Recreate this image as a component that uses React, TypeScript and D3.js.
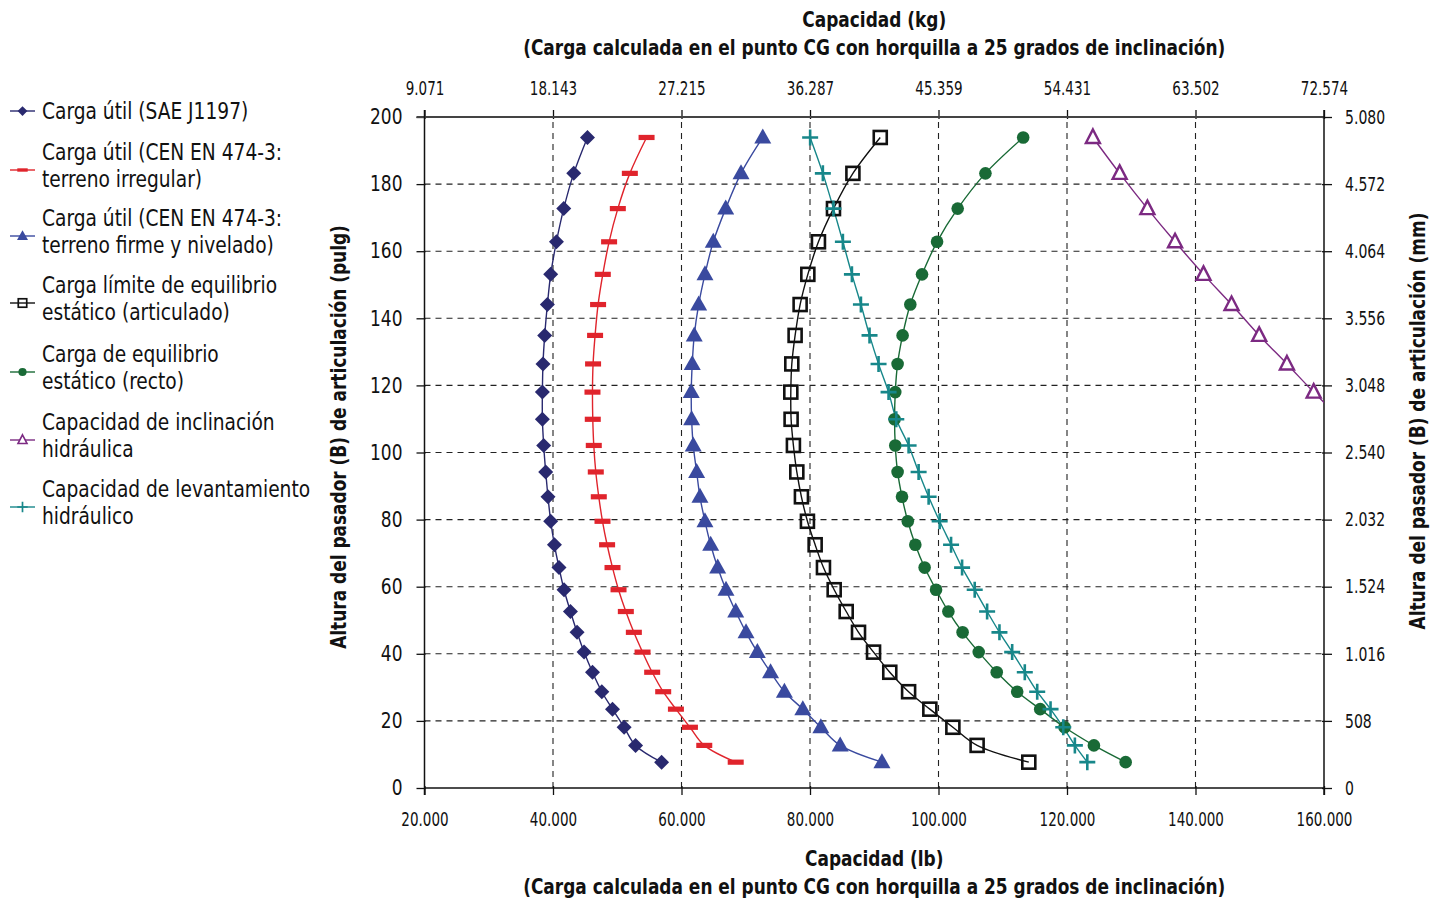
import React, { useEffect, useRef } from "react";
import * as d3 from "d3";

// pivot pin heights (pulg) shared by every curve
const heights = [193.9, 183.2, 172.7, 162.8, 153.1, 144.1, 134.9, 126.4, 118.0, 109.9, 102.1, 94.2, 86.8, 79.5, 72.5, 65.7, 59.1, 52.6, 46.4, 40.5, 34.5, 28.7, 23.5, 18.1, 12.7, 7.7];

// capacities in lb, top to bottom
const saeJ1197 = [45365, 43229, 41670, 40532, 39643, 39129, 38708, 38443, 38349, 38349, 38552, 38864, 39222, 39643, 40220, 40937, 41717, 42715, 43744, 44835, 46144, 47594, 49262, 51071, 52848, 56902];
const cenIrregular = [54563, 51960, 50089, 48732, 47750, 47017, 46550, 46238, 46144, 46191, 46347, 46659, 47127, 47703, 48421, 49262, 50198, 51336, 52583, 53939, 55436, 57151, 59131, 61314, 63543, 68438];
const cenFirme = [72647, 69264, 66879, 64946, 63652, 62670, 61984, 61672, 61516, 61579, 61828, 62358, 62873, 63652, 64541, 65632, 66926, 68438, 70044, 71806, 73863, 76015, 78883, 81690, 84699, 91200];
const limiteArticulado = [90935, 86678, 83654, 81315, 79663, 78463, 77683, 77168, 77013, 77059, 77418, 77948, 78665, 79601, 80801, 82095, 83763, 85634, 87551, 89890, 92416, 95346, 98652, 102237, 106010, 114054];
const equilibrioRecto = [113181, 107304, 102986, 99774, 97436, 95612, 94411, 93632, 93273, 93164, 93273, 93632, 94318, 95222, 96391, 97841, 99618, 101536, 103749, 106259, 109066, 112246, 115832, 119620, 124188, 129130];
const inclinacionHidraulica = [124032, 128195, 132513, 136816, 141243, 145609, 149911, 154230, 158392, 162700];
const levantamientoHidraulico = [80022, 82001, 83654, 85119, 86523, 87926, 89266, 90669, 92228, 93429, 95346, 96905, 98464, 100179, 101957, 103672, 105636, 107569, 109487, 111467, 113431, 115364, 117438, 119417, 121226, 123159];

const lbTicks = [20000, 40000, 60000, 80000, 100000, 120000, 140000, 160000];
const kgLabels = ["9.071", "18.143", "27.215", "36.287", "45.359", "54.431", "63.502", "72.574"];
const pulgTicks = [0, 20, 40, 60, 80, 100, 120, 140, 160, 180, 200];
const mmLabels = ["0", "508", "1.016", "1.524", "2.032", "2.540", "3.048", "3.556", "4.064", "4.572", "5.080"];

const series = [
  { label: ["Carga útil (SAE J1197)"], values: saeJ1197, color: "#29296f", marker: "diamond" },
  { label: ["Carga útil (CEN EN 474-3:", "terreno irregular)"], values: cenIrregular, color: "#e0242c", marker: "dash" },
  { label: ["Carga útil (CEN EN 474-3:", "terreno firme y nivelado)"], values: cenFirme, color: "#3a4a9f", marker: "triangle" },
  { label: ["Carga límite de equilibrio", "estático (articulado)"], values: limiteArticulado, color: "#111111", marker: "square" },
  { label: ["Carga de equilibrio", "estático (recto)"], values: equilibrioRecto, color: "#196a36", marker: "circle" },
  { label: ["Capacidad de inclinación", "hidráulica"], values: inclinacionHidraulica, color: "#7c2a82", marker: "openTriangle" },
  { label: ["Capacidad de levantamiento", "hidráulico"], values: levantamientoHidraulico, color: "#17878a", marker: "cross" },
];

const FONT = "'Liberation Sans Narrow', 'DejaVu Sans Condensed', 'Roboto Condensed', 'Liberation Sans', sans-serif";
const fmtLb = d3.formatLocale({ decimal: ",", thousands: ".", grouping: [3], currency: ["", ""] }).format(",d");

// squeeze text horizontally to mimic the condensed face of the original
function condense(sel, f) {
  sel.each(function () {
    const len = this.getComputedTextLength();
    this.setAttribute("textLength", String(len * f));
    this.setAttribute("lengthAdjust", "spacingAndGlyphs");
  });
}

function drawMarker(g, type, color, s) {
  // s = scale factor (1 on plot, smaller in legend)
  if (type === "diamond") {
    const r = 7.5 * s;
    g.append("path").attr("d", `M0,${-r}L${r},0L0,${r}L${-r},0Z`).attr("fill", color);
  } else if (type === "dash") {
    g.append("rect").attr("x", -8 * s).attr("y", -2.6 * s).attr("width", 16 * s).attr("height", 5.2 * s).attr("fill", color);
  } else if (type === "triangle") {
    const w = 8.5 * s;
    g.append("path").attr("d", `M0,${-9 * s}L${w},${6 * s}L${-w},${6 * s}Z`).attr("fill", color);
  } else if (type === "openTriangle") {
    const w = 7 * s;
    g.append("path").attr("d", `M0,${-8 * s}L${w},${5.5 * s}L${-w},${5.5 * s}Z`).attr("fill", "white").attr("stroke", color).attr("stroke-width", 2.4 * s);
  } else if (type === "square") {
    const h = 6.5 * s;
    g.append("rect").attr("x", -h).attr("y", -h).attr("width", 2 * h).attr("height", 2 * h).attr("fill", "none").attr("stroke", color).attr("stroke-width", 2.6 * s);
  } else if (type === "circle") {
    g.append("circle").attr("r", 6.3 * s).attr("fill", color);
  } else if (type === "cross") {
    const r = 8 * s;
    g.append("path").attr("d", `M${-r},0H${r}M0,${-r}V${r}`).attr("stroke", color).attr("stroke-width", 2.6 * s).attr("fill", "none");
  }
}

function CapacityChart() {
  const ref = useRef(null);

  useEffect(() => {
    const svg = d3.select(ref.current).attr("width", 1430).attr("height", 898);
    svg.selectAll("*").remove();
    svg.style("font-family", FONT);

    const x = d3.scaleLinear().domain([20000, 160000]).range([424.5, 1324]);
    const y = d3.scaleLinear().domain([0, 200]).range([788, 117]);
    const [x0, x1] = x.range();
    const [y0, y1] = y.range();

    svg.append("defs").append("clipPath").attr("id", "plot-clip")
      .append("rect").attr("x", x0).attr("y", y1).attr("width", x1 - x0).attr("height", y0 - y1);

    // Grid
    const grid = svg.append("g").attr("stroke", "#222").attr("stroke-width", 1.1).attr("stroke-dasharray", "6,5");
    lbTicks.slice(1, -1).forEach((t) => {
      grid.append("line").attr("x1", x(t)).attr("x2", x(t)).attr("y1", y0).attr("y2", y1);
    });
    pulgTicks.slice(1, -1).forEach((t) => {
      grid.append("line").attr("x1", x0).attr("x2", x1).attr("y1", y(t)).attr("y2", y(t));
    });

    // Axes
    const styleAxis = (size, f) => (sel) => {
      sel.select(".domain").remove();
      sel.selectAll(".tick line").attr("stroke", "#111").attr("stroke-width", 1.3);
      const t = sel.selectAll(".tick text").attr("fill", "#111").style("font-size", size + "px").style("font-family", FONT);
      if (f !== 1) condense(t, f);
    };

    svg.append("g").attr("transform", `translate(0,${y0})`)
      .call(d3.axisBottom(x).tickValues(lbTicks).tickSizeInner(7).tickSizeOuter(0).tickPadding(17).tickFormat((d) => fmtLb(d)))
      .call(styleAxis(19.5, 0.77))
      .call((g) => g.selectAll(".tick line").attr("y1", -2));

    svg.append("g").attr("transform", `translate(0,${y1})`)
      .call(d3.axisTop(x).tickValues(lbTicks).tickSizeInner(7).tickSizeOuter(0).tickPadding(15).tickFormat((d, i) => kgLabels[i]))
      .call(styleAxis(19.5, 0.77))
      .call((g) => g.selectAll(".tick line").attr("y1", 2));

    svg.append("g").attr("transform", `translate(${x0},0)`)
      .call(d3.axisLeft(y).tickValues(pulgTicks).tickSizeInner(8).tickSizeOuter(0).tickPadding(14))
      .call(styleAxis(21, 0.9))
      .call((g) => g.selectAll(".tick line").attr("x1", 1));

    svg.append("g").attr("transform", `translate(${x1},0)`)
      .call(d3.axisRight(y).tickValues(pulgTicks).tickSizeInner(8).tickSizeOuter(0).tickPadding(13).tickFormat((d, i) => mmLabels[i]))
      .call(styleAxis(19.5, 0.8))
      .call((g) => g.selectAll(".tick line").attr("x1", -2));

    // Frame
    svg.append("line").attr("x1", x0 - 8).attr("x2", x1).attr("y1", y1).attr("y2", y1).attr("stroke", "#444").attr("stroke-width", 2);
    svg.append("line").attr("x1", x0).attr("x2", x1).attr("y1", y0).attr("y2", y0).attr("stroke", "#111").attr("stroke-width", 1.5);
    svg.append("line").attr("x1", x0).attr("x2", x0).attr("y1", y1 - 7).attr("y2", y0 + 7).attr("stroke", "#111").attr("stroke-width", 1.5);
    svg.append("line").attr("x1", x1).attr("x2", x1).attr("y1", y1 - 7).attr("y2", y0 + 7).attr("stroke", "#111").attr("stroke-width", 1.5);

    // Series
    const line = d3.line().x((d) => x(d[0])).y((d) => y(d[1])).curve(d3.curveCatmullRom.alpha(0.5));
    const plot = svg.append("g").attr("clip-path", "url(#plot-clip)");

    series.forEach((s) => {
      const pts = s.values.map((v, i) => [v, heights[i]]);
      plot.append("path").datum(pts).attr("d", line).attr("fill", "none").attr("stroke", s.color).attr("stroke-width", 1.4);
    });
    series.forEach((s) => {
      s.values.forEach((v, i) => {
        const g = plot.append("g").attr("transform", `translate(${x(v)},${y(heights[i])})`);
        drawMarker(g, s.marker, s.color, 1);
      });
    });

    // Legend
    const legend = svg.append("g");
    const rowY = [111, 170, 236, 303, 372, 440, 507];
    series.forEach((s, i) => {
      const g = legend.append("g").attr("transform", `translate(0,${rowY[i]})`);
      g.append("line").attr("x1", 10).attr("x2", 35).attr("y1", 0).attr("y2", 0).attr("stroke", s.color).attr("stroke-width", 1.4);
      const m = g.append("g").attr("transform", "translate(22.5,0)");
      drawMarker(m, s.marker, s.color, 0.65);
      const lines = s.label.length === 1 ? [[s.label[0], 8]] : [[s.label[0], -10], [s.label[1], 16.5]];
      lines.forEach(([txt, dy]) => {
        const t = g.append("text").attr("x", 42).attr("y", dy).attr("fill", "#111").style("font-size", "22.5px").text(txt);
        condense(t, 0.92);
      });
    });

    // Titles
    const cx = (x0 + x1) / 2;
    const boldText = (sel) => sel.attr("fill", "#111").style("font-size", "20.5px").style("font-weight", "bold");
    const sub = "(Carga calculada en el punto CG con horquilla a 25 grados de inclinación)";
    const title = (txt, ty) => {
      const t = svg.append("text").attr("x", cx).attr("y", ty).attr("text-anchor", "middle").call(boldText).text(txt);
      condense(t, 0.92);
    };
    title("Capacidad (kg)", 27);
    title(sub, 55);
    title("Capacidad (lb)", 866);
    title(sub, 894);

    const yl = svg.append("text").attr("transform", `translate(346,437) rotate(-90)`).attr("text-anchor", "middle")
      .call(boldText).text("Altura del pasador (B) de articulación (pulg)");
    condense(yl, 0.92);
    const yr = svg.append("text").attr("transform", `translate(1425,421) rotate(-90)`).attr("text-anchor", "middle")
      .call(boldText).text("Altura del pasador (B) de articulación (mm)");
    condense(yr, 0.92);
  }, []);

  return <svg ref={ref} style={{ position: "absolute", left: 0, top: 0, display: "block" }} />;
}

export default function App() {
  return <CapacityChart />;
}
